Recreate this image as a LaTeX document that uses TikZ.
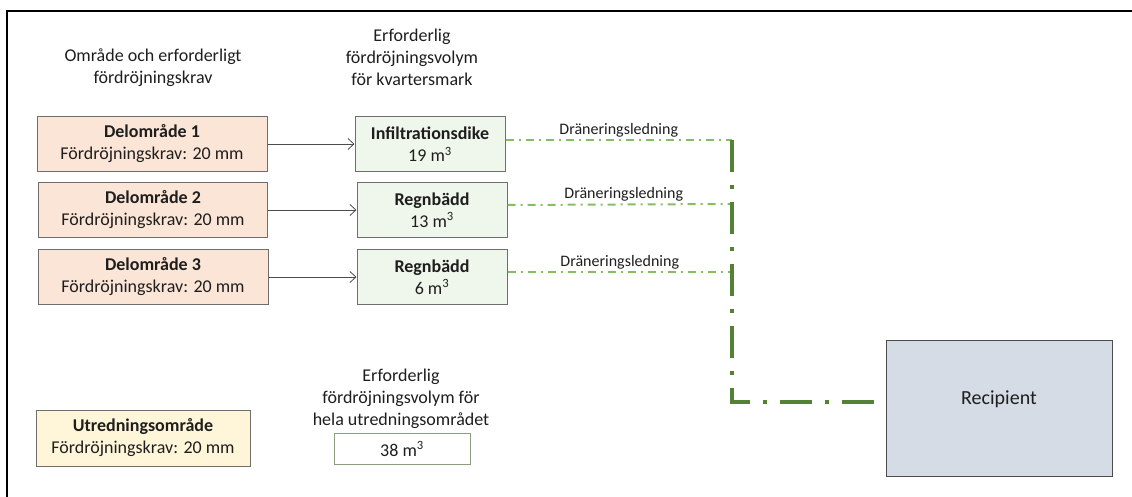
\documentclass[tikz,border=0pt]{standalone}
\usepackage{fontspec}
\setmainfont{Carlito}
\usepackage{tikz}
\usetikzlibrary{arrows.meta}
\usetikzlibrary{positioning}
\definecolor{delfill}{HTML}{FBE5D6}
\definecolor{volfill}{HTML}{EFF6EB}
\definecolor{utrfill}{HTML}{FFF6D9}
\definecolor{recfill}{HTML}{D6DCE5}
\definecolor{boxline}{HTML}{6E6E6E}
\definecolor{drainlight}{HTML}{84BE62}
\definecolor{draindark}{HTML}{548235}
\definecolor{totline}{HTML}{8C9E80}
\definecolor{txt}{HTML}{1E1E1E}
\tikzset{areabox/.style = {draw = boxline, line width = 1pt, fill = delfill, align = center,
                           minimum width = 230, minimum height = 55, inner sep = 0,
                           font = \fontsize{18}{22}\selectfont, text = txt}}
\tikzset{volbox/.style = {areabox, fill = volfill, minimum width = 150}}
\tikzset{heading/.style = {align = center, font = \fontsize{18}{22}\selectfont, text = txt}}
\tikzset{feed/.style = {draw = black!70, line width = 0.8pt,
                        -{Straight Barb[length = 6pt, width = 11pt]}}}
\tikzset{drain/.style = {draw = drainlight, line width = 2pt,
                         dash pattern = on 8pt off 5pt on 2pt off 5pt}}
\tikzset{mainpipe/.style = {draw = draindark, line width = 4pt,
                            dash pattern = on 32pt off 13pt on 4pt off 13pt}}
\tikzset{pipelabel/.style = {font = \fontsize{16}{19}\selectfont, text = txt,
                             above, inner sep = 2pt}}

\begin{document}
\begin{tikzpicture}[x = 1pt, y = -1pt]
    \useasboundingbox (0, 0) rectangle (1132, 497);
    \draw [line width = 2pt] (7, 497) -- (7, 11) -- (1132, 11);

    \node at (153, 68) [heading] {Område och erforderligt\\fördröjningskrav};
    \node at (412, 57) [heading] {Erforderlig\\fördröjningsvolym\\för kvartersmark};

    \node at (152, 144) [areabox] (del1) {\textbf{Delområde 1}\\Fördröjningskrav: 20 mm};
    \node at (153, 210) [areabox, minimum width = 229] (del2) {\textbf{Delområde 2}\\Fördröjningskrav: 20 mm};
    \node at (153, 277) [areabox] (del3) {\textbf{Delområde 3}\\Fördröjningskrav: 20 mm};

    \node at (430, 144) [volbox] (vol1) {\textbf{Infiltrationsdike}\\19 m\textsuperscript{3}};
    \node at (432, 210) [volbox] (vol2) {\textbf{Regnbädd}\\13 m\textsuperscript{3}};
    \node at (432, 277) [volbox] (vol3) {\textbf{Regnbädd}\\6 m\textsuperscript{3}};

    \draw [feed] (del1) -- (vol1);
    \draw [feed] (del2) -- (vol2);
    \draw [feed] (del3) -- (vol3);

    \coordinate (j1) at (732, 140);
    \coordinate (j2) at (732, 204);
    \coordinate (j3) at (732, 272);
    \coordinate (bend) at (732, 402);

    \draw [drain] ([yshift = 4pt]vol1.east) -- (j1) node [pipelabel, midway] {Dräneringsledning};
    \draw [drain] ([yshift = 5pt]vol2.east) -- (j2) node [pipelabel, midway, xshift = 4pt] {Dräneringsledning};
    \draw [drain] ([yshift = 5pt]vol3.east) -- (j3) node [pipelabel, midway] {Dräneringsledning};

    \node at (999, 408) [areabox, fill = recfill, draw = black!70, minimum width = 226, minimum height = 136,
                         label = {[font = \fontsize{20}{24}\selectfont, text = txt, yshift = 9pt]center:Recipient}] (recip) {};
    \draw [mainpipe] (j1) -- (bend) -- (bend -| recip.west);

    \node at (143, 438) [areabox, fill = utrfill, minimum width = 214, minimum height = 56] (utr) {\textbf{Utredningsområde}\\Fördröjningskrav: 20 mm};
    \node at (401, 399) [heading] (totlabel) {Erforderlig\\fördröjningsvolym för\\hela utredningsområdet};
    \node at (402, 449) [draw = totline, line width = 1pt, fill = white, minimum width = 136, minimum height = 31,
                         inner sep = 0, font = \fontsize{18}{22}\selectfont, text = txt] (tot) {38 m\textsuperscript{3}};
\end{tikzpicture}
\end{document}
